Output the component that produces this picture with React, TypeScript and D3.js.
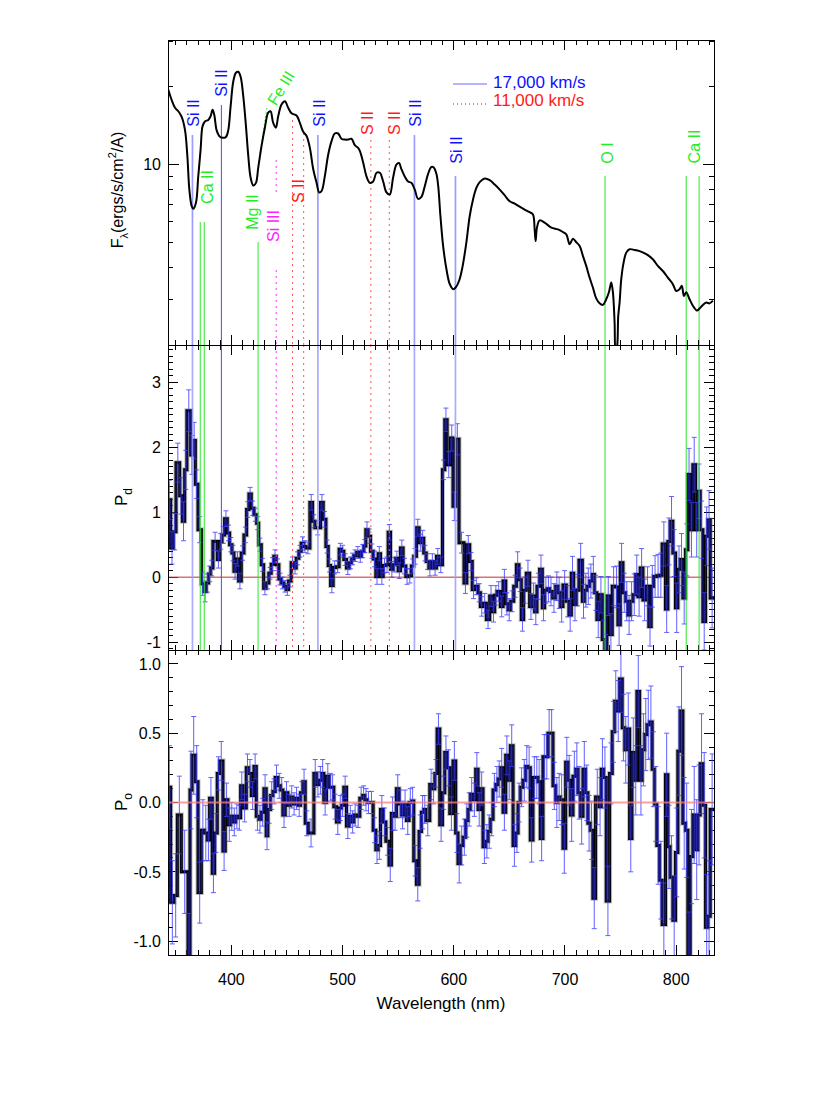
import React, { useEffect, useRef } from "react";
import * as d3 from "d3";

// flux spectrum (nm, ergs/s/cm2/A)
const fluxWave = [
  343.3, 346.3, 349.3, 352.3, 355.3, 358.3, 360.4, 362.2, 364.3, 365.7, 368.1, 370.2, 372.3, 374.1, 376.2,
  379.2, 381.3, 383.1, 384.6, 386.7, 389.1, 392.1, 395.1, 397.2, 399.3, 401.7, 404.1, 406.2, 408.3, 410.7,
  413.1, 415.2, 417.3, 419.7, 422.1, 424.1, 427.1, 430.1, 433.1, 435.2, 437.6, 440.0, 442.1, 445.1, 448.1,
  451.1, 454.1, 458.6, 461.6, 464.6, 467.6, 470.6, 473.6, 476.6, 479.0, 481.1, 484.0, 487.0, 490.0, 493.0,
  496.0, 499.0, 502.0, 505.0, 508.0, 511.0, 514.0, 515.5, 518.5, 521.5, 524.5, 527.5, 530.5, 533.5, 536.5,
  539.5, 542.4, 545.4, 548.4, 550.8, 552.9, 555.9, 558.9, 561.9, 564.9, 567.9, 570.9, 573.9, 576.9, 579.9,
  582.0, 584.4, 586.0, 588.0, 590.4, 593.4, 596.4, 599.4, 601.7, 604.7, 607.7, 611.3, 614.3, 617.3, 620.3,
  623.3, 627.8, 632.3, 636.8, 641.3, 645.8, 650.3, 654.8, 659.2, 663.7, 668.2, 671.2, 672.7, 673.6, 674.8,
  677.2, 681.7, 687.7, 693.7, 698.2, 701.2, 704.2, 707.2, 710.2, 713.2, 716.1, 719.1, 722.1, 725.1, 728.1,
  731.1, 734.1, 736.5, 739.5, 741.6, 743.1, 744.6, 745.5, 746.7, 747.9, 749.1, 750.6, 752.7, 755.1, 758.1,
  762.6, 767.1, 773.1, 779.0, 783.5, 788.0, 792.5, 797.0, 800.0, 803.0, 805.1, 806.9, 809.0, 812.0, 815.0,
  818.6, 821.0, 824.0, 827.0, 830.0, 833.0,
];
const fluxValue = [
  19.5, 17.8, 16.6, 16.1, 15.3, 13.6, 10.8, 8.0, 6.9, 6.74, 7.1, 9.0, 11.4, 14.1, 14.7,
  14.9, 15.4, 16.3, 15.6, 13.6, 12.9, 12.7, 12.8, 13.6, 16.8, 21.0, 22.7, 22.9, 21.9, 18.4,
  14.1, 10.8, 8.9, 8.3, 8.5, 9.7, 11.8, 13.9, 15.9, 16.1, 14.5, 13.9, 15.4, 17.1, 17.6,
  16.6, 15.8, 15.5, 14.5, 13.4, 12.9, 11.6, 9.6, 8.5, 7.8, 7.9, 9.0, 10.9, 12.3, 13.2,
  13.2, 12.6, 12.5, 12.5, 12.6, 11.9, 11.6, 11.3, 10.2, 9.0, 8.5, 8.6, 9.3, 9.3, 8.6,
  7.8, 7.66, 8.9, 10.0, 10.15, 9.6, 9.0, 8.6, 8.5, 8.0, 7.37, 7.5, 8.25, 9.2, 9.8,
  9.75, 9.2, 8.25, 6.31, 4.84, 3.93, 3.44, 3.29, 3.34, 3.54, 3.99, 4.99, 6.31, 7.33, 8.13,
  8.55, 8.83, 8.7, 8.37, 8.0, 7.6, 7.21, 7.06, 6.87, 6.7, 6.54, 6.41, 5.61, 5.06, 5.7,
  6.08, 5.96, 5.7, 5.61, 5.48, 5.37, 4.91, 5.16, 5.0, 4.84, 4.43, 4.05, 3.65, 3.34, 3.03,
  2.9, 2.86, 2.97, 3.2, 3.49, 3.2, 2.45, 1.9, 1.95, 2.6, 2.92, 3.6, 4.17, 4.56, 4.7,
  4.67, 4.62, 4.5, 4.3, 4.05, 3.87, 3.65, 3.44, 3.24, 3.29, 3.39, 3.1, 3.2, 3.01, 2.84,
  2.72, 2.77, 2.86, 2.92, 2.9, 2.97,
];

// polarization bins: [bin start (nm), value (%), error (%)]
const pdBins = [
  [343.0, 1.19, 0.3], [345.4, 0.45, 0.25], [347.8, 0.7, 0.28], [350.2, 1.76, 0.3], [353.5, 1.25, 0.28],
  [355.9, 0.86, 0.3], [358.0, 1.65, 0.3], [360.0, 2.56, 0.32], [363.4, 1.88, 0.3], [365.5, 2.1, 0.28],
  [367.6, 1.43, 0.22], [370.0, 0.73, 0.2], [373.0, -0.1, 0.18], [375.3, -0.22, 0.16], [377.4, -0.09, 0.14],
  [379.5, 0.05, 0.12], [381.3, 0.14, 0.12], [383.4, 0.55, 0.14], [387.3, 0.27, 0.13], [389.4, 0.55, 0.12],
  [391.5, 0.65, 0.13], [393.9, 0.9, 0.12], [396.3, 0.68, 0.12], [398.4, 0.5, 0.11], [400.5, 0.37, 0.12],
  [402.3, 0.09, 0.12], [404.4, 0.28, 0.11], [406.5, -0.06, 0.12], [408.9, 0.37, 0.11], [411.3, 0.65, 0.12],
  [413.7, 1.04, 0.12], [415.8, 1.28, 0.1], [417.9, 1.06, 0.11], [420.3, 0.96, 0.1], [422.7, 0.83, 0.1],
  [424.5, 0.5, 0.1], [426.9, 0.19, 0.1], [429.0, -0.17, 0.1], [431.3, -0.09, 0.09], [433.7, 0.06, 0.09],
  [435.8, 0.2, 0.1], [438.2, 0.32, 0.1], [440.3, 0.19, 0.09], [442.7, -0.03, 0.09], [444.8, -0.09, 0.09],
  [447.2, -0.14, 0.09], [449.3, -0.19, 0.09], [451.4, -0.06, 0.09], [453.8, 0.22, 0.09], [456.2, 0.14, 0.09],
  [458.3, 0.29, 0.1], [460.7, 0.4, 0.09], [462.8, 0.52, 0.1], [465.2, 0.47, 0.09], [467.0, 0.45, 0.09],
  [470.6, 1.15, 0.12], [473.0, 0.86, 0.1], [475.1, 0.76, 0.11], [480.2, 1.15, 0.12], [482.6, 0.89, 0.12],
  [485.0, 0.47, 0.1], [487.1, 0.18, 0.1], [489.2, -0.13, 0.11], [491.5, 0.15, 0.1], [494.2, 0.16, 0.09],
  [496.9, 0.43, 0.09], [499.0, 0.4, 0.09], [501.1, 0.27, 0.09], [503.5, 0.14, 0.1], [505.9, 0.22, 0.09],
  [508.0, 0.28, 0.09], [510.1, 0.33, 0.09], [512.5, 0.38, 0.09], [514.9, 0.32, 0.09], [517.0, 0.4, 0.1],
  [519.1, 0.48, 0.1], [520.9, 0.73, 0.12], [523.0, 0.63, 0.11], [525.1, 0.4, 0.11], [527.5, 0.28, 0.12],
  [529.9, 0.01, 0.12], [532.0, 0.36, 0.11], [534.1, 0.01, 0.12], [536.5, 0.18, 0.11], [538.9, 0.19, 0.12],
  [541.0, 0.69, 0.12], [543.1, 0.12, 0.12], [545.5, 0.19, 0.11], [547.6, 0.29, 0.11], [550.0, 0.1, 0.12],
  [552.1, 0.45, 0.12], [554.4, 0.17, 0.12], [556.9, 0.01, 0.12], [559.0, 0.02, 0.11], [561.9, 0.17, 0.11],
  [564.0, 0.32, 0.12], [566.4, 0.76, 0.13], [568.8, 0.53, 0.13], [571.0, 0.6, 0.12], [573.0, 0.37, 0.12],
  [575.2, 0.24, 0.12], [577.5, 0.14, 0.12], [579.5, 0.24, 0.12], [582.0, 0.14, 0.11], [584.4, 0.32, 0.12],
  [586.8, 0.19, 0.12], [589.8, 1.65, 0.15], [591.9, 2.42, 0.18], [594.0, 1.73, 0.2], [597.0, 2.14, 0.2],
  [599.3, 1.09, 0.22], [601.7, 2.12, 0.24], [604.7, 0.53, 0.16], [609.2, -0.09, 0.16], [611.7, 0.5, 0.14],
  [614.3, 0.24, 0.14], [616.6, -0.19, 0.14], [618.8, -0.14, 0.13], [621.8, -0.24, 0.14], [623.9, -0.45, 0.15],
  [626.3, -0.4, 0.15], [629.3, -0.65, 0.14], [632.3, -0.29, 0.16], [634.7, -0.53, 0.16], [636.8, -0.28, 0.15],
  [638.9, -0.22, 0.15], [641.9, -0.45, 0.16], [644.3, -0.06, 0.18], [646.7, -0.41, 0.17], [648.8, -0.5, 0.17],
  [650.9, -0.37, 0.16], [653.9, -0.14, 0.17], [656.3, 0.19, 0.2], [658.6, -0.04, 0.18], [660.7, -0.65, 0.18],
  [662.8, -0.2, 0.2], [665.2, 0.06, 0.2], [668.2, -0.45, 0.2], [670.6, -0.29, 0.2], [672.7, -0.53, 0.2],
  [674.8, -0.14, 0.2], [677.2, 0.12, 0.22], [679.6, -0.47, 0.2], [681.7, -0.2, 0.2], [684.0, -0.18, 0.2],
  [686.2, -0.22, 0.22], [688.6, -0.32, 0.22], [691.6, -0.14, 0.22], [693.7, -0.24, 0.24], [695.8, -0.45, 0.24],
  [698.2, -0.12, 0.22], [701.2, -0.37, 0.24], [703.6, -0.58, 0.25], [705.7, 0.06, 0.26], [707.8, -0.42, 0.25],
  [710.2, -0.2, 0.24], [712.6, 0.26, 0.26], [715.6, -0.37, 0.26], [717.7, -0.2, 0.26], [719.8, -0.14, 0.28],
  [722.1, -0.06, 0.26], [724.5, 0.04, 0.28], [726.5, -0.24, 0.27], [728.7, -0.65, 0.28], [731.1, -0.27, 0.28],
  [733.5, -0.96, 0.3], [735.6, -1.2, 0.32], [737.7, -0.29, 0.3], [740.1, -0.88, 0.32], [742.5, -0.14, 0.3],
  [745.0, -0.15, 0.32], [747.6, -0.73, 0.32], [749.7, 0.22, 0.3], [752.1, -0.24, 0.3], [754.5, -0.37, 0.3],
  [756.6, -0.58, 0.3], [758.7, -0.37, 0.3], [761.1, -0.27, 0.32], [763.5, 0.04, 0.3], [765.6, -0.3, 0.3],
  [767.7, 0.14, 0.3], [770.1, -0.35, 0.32], [773.1, -0.14, 0.3], [775.4, -0.76, 0.3], [777.5, -0.14, 0.32],
  [779.6, 0.01, 0.32], [782.4, 0.02, 0.33], [785.0, 0.03, 0.34], [787.4, 0.51, 0.34], [790.4, -0.49, 0.36],
  [792.5, 0.55, 0.36], [794.6, 0.86, 0.38], [797.0, 0.37, 0.36], [799.4, -0.47, 0.38], [801.5, 0.12, 0.36],
  [803.6, 0.27, 0.4], [806.0, -0.32, 0.4], [808.4, 0.42, 0.4], [810.5, 1.58, 0.4], [812.6, 0.73, 0.42],
  [815.0, 1.73, 0.42], [817.4, 0.73, 0.42], [819.5, 1.32, 0.42], [821.6, 0.73, 0.44], [824.0, -0.68, 0.44],
  [826.4, 0.63, 0.45], [828.5, 0.88, 0.45], [830.6, -0.32, 0.46],
];

const poBins = [
  [343.0, 0.11, 0.3], [345.4, -0.72, 0.3], [348.4, -0.67, 0.3], [351.4, -0.09, 0.28], [355.0, -0.5, 0.3],
  [361.0, -1.15, 0.35], [362.8, 0.09, 0.28], [364.6, 0.34, 0.28], [367.6, 0.15, 0.26], [370.0, -0.65, 0.22],
  [373.0, -0.2, 0.22], [375.7, -0.22, 0.2], [378.3, -0.27, 0.15], [380.4, 0.03, 0.15], [382.8, -0.51, 0.14],
  [384.9, -0.22, 0.14], [387.3, 0.21, 0.12], [389.4, 0.3, 0.14], [392.4, -0.35, 0.14], [394.5, 0.02, 0.12],
  [396.9, -0.16, 0.12], [399.3, -0.1, 0.1], [401.4, -0.14, 0.1], [403.8, -0.1, 0.09], [406.0, -0.11, 0.09],
  [408.3, 0.12, 0.1], [410.4, -0.04, 0.1], [413.4, 0.25, 0.1], [415.5, 0.21, 0.1], [417.9, 0.05, 0.1],
  [420.3, 0.26, 0.09], [422.4, -0.1, 0.1], [424.5, -0.12, 0.1], [426.9, -0.07, 0.1], [429.3, 0.1, 0.1],
  [431.3, -0.24, 0.1], [432.8, -0.05, 0.1], [435.2, 0.05, 0.1], [437.3, 0.08, 0.09], [439.4, 0.18, 0.09],
  [441.8, 0.12, 0.09], [444.2, 0.09, 0.09], [446.3, -0.09, 0.09], [448.4, 0.07, 0.08], [450.8, -0.02, 0.08],
  [453.2, 0.04, 0.08], [455.3, -0.01, 0.08], [457.4, 0.03, 0.08], [459.8, -0.02, 0.08], [462.2, 0.07, 0.08],
  [464.3, 0.15, 0.09], [466.4, -0.15, 0.09], [469.1, -0.22, 0.1], [474.2, 0.21, 0.1], [476.6, 0.13, 0.09],
  [479.0, 0.16, 0.1], [481.1, 0.21, 0.1], [483.1, 0.0, 0.09], [485.5, 0.19, 0.09], [487.9, 0.11, 0.1],
  [490.0, 0.11, 0.09], [492.1, -0.03, 0.09], [494.5, -0.14, 0.09], [496.9, -0.04, 0.09], [499.0, -0.02, 0.08],
  [501.1, 0.11, 0.08], [503.5, -0.17, 0.09], [505.9, -0.1, 0.08], [508.0, -0.14, 0.08], [510.1, -0.09, 0.08],
  [512.5, -0.1, 0.08], [515.5, 0.03, 0.08], [517.9, 0.05, 0.07], [520.0, 0.02, 0.08], [522.1, 0.0, 0.08],
  [524.5, 0.0, 0.08], [527.5, -0.2, 0.09], [529.9, -0.34, 0.1], [532.0, -0.31, 0.1], [534.1, -0.05, 0.1],
  [536.5, -0.14, 0.1], [538.9, -0.28, 0.1], [541.8, -0.45, 0.12], [543.9, -0.08, 0.12], [546.0, -0.1, 0.1],
  [548.4, 0.1, 0.1], [550.8, -0.01, 0.1], [552.9, -0.09, 0.1], [555.0, -0.01, 0.1], [557.4, -0.13, 0.1],
  [559.8, 0.0, 0.1], [562.0, 0.01, 0.1], [564.0, -0.42, 0.11], [566.4, -0.59, 0.12], [568.8, -0.21, 0.12],
  [570.9, -0.07, 0.12], [573.0, -0.05, 0.1], [574.8, -0.13, 0.11], [578.4, 0.13, 0.11], [580.8, 0.1, 0.11],
  [582.9, 0.21, 0.1], [585.0, 0.53, 0.11], [587.4, -0.16, 0.12], [589.8, 0.07, 0.12], [591.9, 0.36, 0.12],
  [594.0, 0.25, 0.13], [596.4, -0.08, 0.12], [599.3, 0.3, 0.14], [601.7, -0.22, 0.14], [603.8, -0.44, 0.14],
  [605.9, -0.31, 0.14], [608.3, -0.25, 0.13], [610.7, -0.13, 0.12], [612.8, -0.05, 0.12], [614.9, 0.06, 0.12],
  [617.3, 0.02, 0.12], [619.7, 0.24, 0.12], [621.8, -0.05, 0.12], [623.9, 0.1, 0.12], [626.3, -0.32, 0.12],
  [628.7, -0.28, 0.12], [630.8, -0.21, 0.12], [632.9, -0.12, 0.12], [635.3, 0.09, 0.12], [637.7, 0.13, 0.13],
  [639.8, 0.17, 0.13], [641.9, 0.25, 0.14], [644.3, -0.07, 0.13], [646.7, 0.34, 0.14], [648.8, 0.16, 0.14],
  [650.9, 0.41, 0.15], [653.3, -0.31, 0.15], [655.7, -0.22, 0.14], [657.8, 0.0, 0.14], [659.8, 0.11, 0.14],
  [662.2, 0.16, 0.15], [664.6, 0.26, 0.15], [666.7, 0.25, 0.15], [668.8, -0.27, 0.16], [671.2, 0.18, 0.15],
  [673.6, 0.18, 0.15], [675.7, 0.15, 0.16], [677.8, -0.26, 0.16], [680.2, 0.33, 0.16], [682.6, 0.33, 0.16],
  [684.7, 0.5, 0.17], [686.8, 0.5, 0.17], [689.2, 0.12, 0.17], [691.6, 0.0, 0.18], [693.7, 0.04, 0.17],
  [695.8, 0.02, 0.18], [698.2, -0.33, 0.18], [700.6, 0.29, 0.18], [702.7, 0.16, 0.18], [704.8, -0.09, 0.19],
  [707.2, 0.19, 0.18], [709.6, 0.24, 0.19], [711.7, 0.07, 0.19], [713.8, -0.1, 0.2], [716.2, 0.24, 0.2],
  [718.5, 0.07, 0.2], [720.6, -0.15, 0.2], [722.7, -0.2, 0.21], [725.1, -0.69, 0.22], [727.5, 0.04, 0.2],
  [730.5, -0.03, 0.21], [732.6, 0.24, 0.22], [734.7, 0.18, 0.22], [737.1, -0.71, 0.25], [740.1, 0.21, 0.22],
  [742.5, 0.51, 0.22], [744.6, 0.73, 0.22], [746.7, 0.66, 0.22], [749.1, 0.89, 0.24], [751.5, 0.54, 0.24],
  [753.6, 0.38, 0.24], [755.7, 0.53, 0.26], [758.1, -0.26, 0.24], [760.2, 0.36, 0.25], [762.6, 0.16, 0.25],
  [764.7, 0.8, 0.26], [767.1, 0.16, 0.25], [769.5, 0.38, 0.26], [771.6, 0.49, 0.26], [773.7, 0.56, 0.25],
  [776.1, 0.58, 0.26], [778.4, 0.24, 0.27], [780.5, -0.01, 0.27], [782.6, -0.31, 0.28], [785.0, -0.56, 0.28],
  [787.4, -0.88, 0.3], [790.4, 0.2, 0.3], [792.5, -0.32, 0.3], [794.6, -0.54, 0.3], [797.0, -0.85, 0.32],
  [799.4, -0.36, 0.32], [801.5, 0.37, 0.32], [803.6, 0.66, 0.32], [806.0, -0.15, 0.33], [808.4, -0.2, 0.34],
  [810.5, -1.15, 0.36], [812.6, -0.39, 0.34], [815.0, -0.09, 0.35], [817.4, -0.34, 0.36], [819.5, -0.09, 0.36],
  [821.6, 0.28, 0.36], [824.0, -0.02, 0.38], [826.4, -0.9, 0.38], [828.5, -0.82, 0.4], [830.6, -0.05, 0.4],
];

const xTickLabels = [400, 500, 600, 700, 800];
const fluxTickLabels = [10];
const pdTickLabels = [-1, 0, 1, 2, 3];
const poTickLabels = [-1.0, -0.5, 0.0, 0.5, 1.0];

// line identifications (blueshifted absorption, nm)
const lineNames = ["Si II", "Ca II", "Si II", "Mg II", "Si III", "S II", "Si II", "S II", "S II", "Si II", "Si II", "O I", "Ca II"];
const lineWaves = [[365.0], [372.0, 375.6], [391.0], [424.0], [440.3], [455.0, 465.0], [477.8], [525.4], [542.0], [564.6], [601.5], [736.0], [809.0, 820.6]];
const lineKinds = ["fast", "green", "blue", "green", "magenta", "red", "fast", "red", "red", "fast", "fast", "green", "green"];
const feIIIWaves = [425.7, 431.9];
const legendLabels = ["17,000 km/s", "11,000 km/s"];

// placement of the identifications inside the flux panel (pixels)
const lineTops = [[135], [222, 222], [105], [242], [160], [120, 133], [135], [140], [140], [135], [176], [176], [176, 176]];
const labelPos = [[192.5, 113], [207, 187], [221, 83], [252, 212], [273, 226], [298, 191], [319, 113], [367, 123], [394, 123], [415, 113], [456, 150], [606.5, 153], [693.5, 146.5]];

const kindStyle: Record<string, { stroke: string; width: number; dash: string | null; text: string }> = {
  fast: { stroke: "#9d9dff", width: 1.7, dash: null, text: "#1010ff" },
  blue: { stroke: "#4848ff", width: 1, dash: null, text: "#1010ff" },
  green: { stroke: "#2ee62e", width: 1, dash: null, text: "#22ee22" },
  magenta: { stroke: "#ff33ff", width: 1, dash: "2,4", text: "#ff22ff" },
  red: { stroke: "#ff5a5a", width: 1, dash: "2,4", text: "#ff1a1a" },
};

const W = 830;
const H = 1120;
const left = 168;
const right = 714;
const X0 = 343;
const X1 = 834;

const App = () => {
  const ref = useRef<SVGSVGElement>(null);

  useEffect(() => {
    const svg = d3.select(ref.current);
    svg.selectAll("*").remove();
    const font = "'Liberation Sans', Arial, Helvetica, sans-serif";

    const x = d3.scaleLinear().domain([X0, X1]).range([left, right]);
    const yF = d3.scaleLog().domain([2, 30.4]).range([345, 40]);
    const yD = d3.scaleLinear().domain([-1.12, 3.57]).range([650, 345]);
    const yO = d3.scaleLinear().domain([-1.1, 1.1]).range([955, 650]);

    svg.append("rect").attr("width", W).attr("height", H).attr("fill", "#fff");
    const root = svg.append("g").style("font-family", font);

    const defs = svg.append("defs");
    const clips: [string, number, number][] = [["clipF", 40, 345], ["clipD", 345, 650], ["clipO", 650, 955]];
    clips.forEach(([id, t, b]) => {
      defs.append("clipPath").attr("id", id)
        .append("rect").attr("x", left).attr("y", t).attr("width", right - left).attr("height", b - t);
    });

    // ---------- flux panel ----------
    const gF = root.append("g");
    const gFc = gF.append("g").attr("clip-path", "url(#clipF)");

    lineWaves.forEach((ws, i) => {
      const st = kindStyle[lineKinds[i]];
      ws.forEach((w, j) => {
        if (lineKinds[i] === "magenta") {
          // Si III marker broken around its label
          [[160, 192], [270, 345]].forEach(([a, b]) => {
            gFc.append("line").attr("x1", x(w)).attr("x2", x(w)).attr("y1", a).attr("y2", b)
              .attr("stroke", st.stroke).attr("stroke-width", st.width).attr("stroke-dasharray", st.dash);
          });
          return;
        }
        gFc.append("line").attr("x1", x(w)).attr("x2", x(w)).attr("y1", lineTops[i][j]).attr("y2", 345)
          .attr("stroke", st.stroke).attr("stroke-width", st.width)
          .attr("stroke-dasharray", st.dash);
      });
      const [cx, cy] = labelPos[i];
      gF.append("text")
        .attr("transform", `translate(${cx + 6},${cy}) rotate(-90)`)
        .attr("text-anchor", "middle").attr("font-size", 16).attr("fill", st.text)
        .text(lineNames[i]);
    });

    // Fe III pointer
    gFc.append("line").attr("x1", x(feIIIWaves[0])).attr("y1", 153).attr("x2", x(feIIIWaves[1])).attr("y2", 108)
      .attr("stroke", "#2ee62e").attr("stroke-dasharray", "1.5,2.5");
    gF.append("text").attr("transform", "translate(281,88) rotate(-58)")
      .attr("text-anchor", "middle").attr("dy", "0.35em").attr("font-size", 16).attr("fill", "#22ee22")
      .text("Fe III");

    const fluxLine = d3.line<number>()
      .x((_, i) => x(fluxWave[i]))
      .y((d) => yF(d))
      .curve(d3.curveCatmullRom.alpha(0.5));
    gFc.append("path").attr("d", fluxLine(fluxValue)).attr("fill", "none")
      .attr("stroke", "#000").attr("stroke-width", 2).attr("stroke-linejoin", "round");

    // legend
    gF.append("line").attr("x1", 453).attr("x2", 487).attr("y1", 84).attr("y2", 84)
      .attr("stroke", "#9d9dff").attr("stroke-width", 1.5);
    gF.append("line").attr("x1", 453).attr("x2", 487).attr("y1", 104).attr("y2", 104)
      .attr("stroke", "#3030ff").attr("stroke-dasharray", "1,3");
    gF.append("text").attr("x", 493).attr("y", 88).attr("font-size", 17).attr("fill", "#1010ff").text(legendLabels[0]);
    gF.append("text").attr("x", 493).attr("y", 106).attr("font-size", 17).attr("fill", "#ff1a1a").text(legendLabels[1]);

    // ---------- ticks and frames ----------
    const frame = (top: number, bottom: number) => {
      const g = root.append("g").attr("shape-rendering", "crispEdges");
      d3.range(350, 834, 10).forEach((t) => {
        const len = t % 100 === 0 ? 10 : 5;
        g.append("line").attr("x1", x(t)).attr("x2", x(t)).attr("y1", bottom).attr("y2", bottom - len).attr("stroke", "#000");
        g.append("line").attr("x1", x(t)).attr("x2", x(t)).attr("y1", top).attr("y2", top + len).attr("stroke", "#000");
      });
      return g;
    };
    const yTicks = (g: any, vals: number[], scale: (v: number) => number, len: number) => {
      vals.forEach((v) => {
        const yy = scale(v);
        g.append("line").attr("x1", left).attr("x2", left + len).attr("y1", yy).attr("y2", yy).attr("stroke", "#000");
        g.append("line").attr("x1", right).attr("x2", right - len).attr("y1", yy).attr("y2", yy).attr("stroke", "#000");
      });
    };

    const fF = frame(40, 345);
    yTicks(fF, [2, 3, 4, 5, 6, 7, 8, 9, 20, 30], yF, 5);
    yTicks(fF, [10], yF, 11);
    const fD = frame(345, 650);
    yTicks(fD, d3.range(-11, 36).map((v) => v / 10).filter((v) => Math.abs(v - Math.round(v)) > 0.01), yD, 5);
    yTicks(fD, pdTickLabels, yD, 10);
    const fO = frame(650, 955);
    yTicks(fO, d3.range(-11, 12).map((v) => v / 10).filter((v) => Math.abs(v * 2 - Math.round(v * 2)) > 0.01), yO, 5);
    yTicks(fO, poTickLabels, yO, 10);

    // tick labels
    const tickText = (vals: number[], scale: (v: number) => number, fmt: (v: number) => string) => {
      vals.forEach((v) => {
        root.append("text").attr("x", 161).attr("y", scale(v) + 5.8)
          .attr("text-anchor", "end").attr("font-size", 16).text(fmt(v));
      });
    };
    tickText(fluxTickLabels, yF, (v) => String(v));
    tickText(pdTickLabels, yD, (v) => String(v));
    tickText(poTickLabels, yO, (v) => v.toFixed(1));
    xTickLabels.forEach((v) => {
      root.append("text").attr("x", x(v)).attr("y", 985).attr("text-anchor", "middle").attr("font-size", 16).text(String(v));
    });
    root.append("text").attr("x", (left + right) / 2).attr("y", 1009).attr("text-anchor", "middle")
      .attr("font-size", 17).text("Wavelength (nm)");

    // axis titles
    const fT = root.append("text").attr("transform", "translate(123,190) rotate(-90)")
      .attr("text-anchor", "middle").attr("font-size", 16);
    fT.append("tspan").text("F");
    fT.append("tspan").attr("dy", 5).attr("font-size", 11).text("λ");
    fT.append("tspan").attr("dy", -5).text("(ergs/s/cm");
    fT.append("tspan").attr("dy", -7).attr("font-size", 11).text("2");
    fT.append("tspan").attr("dy", 7).text("/A)");

    const pT = (cy: number, sub: string) => {
      const t = root.append("text").attr("transform", `translate(127,${cy}) rotate(-90)`)
        .attr("text-anchor", "middle").attr("font-size", 17);
      t.append("tspan").text("P");
      t.append("tspan").attr("dy", 5).attr("font-size", 12).text(sub);
    };
    pT(497, "d");
    pT(802, "o");

    // ---------- polarization panels ----------
    const stepPath = (bins: number[][], ys: (v: number) => number) => {
      let d = "";
      bins.forEach((b, i) => {
        const x0 = x(b[0]);
        const x1 = x(i < bins.length - 1 ? bins[i + 1][0] : X1);
        const yy = ys(b[1]);
        d += (i === 0 ? `M${x0},${yy}` : `V${yy}`) + `H${x1}`;
      });
      return d;
    };

    const drawPol = (bins: number[][], ys: any, clipId: string) => {
      const g = root.append("g").attr("clip-path", `url(#${clipId})`);
      const d = stepPath(bins, ys);
      g.append("path").attr("d", d).attr("fill", "none").attr("stroke", "#8c8c8c").attr("stroke-width", 5).attr("opacity", 0.55);
      g.append("path").attr("d", d).attr("fill", "none").attr("stroke", "#000").attr("stroke-width", 3);
      bins.forEach((b, i) => {
        if (i === 0) return;
        g.append("line").attr("x1", x(b[0])).attr("x2", x(b[0]))
          .attr("y1", ys(bins[i - 1][1])).attr("y2", ys(b[1]))
          .attr("stroke", "#16167a").attr("stroke-width", 1.2);
      });
      bins.forEach((b, i) => {
        const xe = x(i < bins.length - 1 ? bins[i + 1][0] : X1);
        const xc = (x(b[0]) + xe) / 2;
        const y1 = ys(b[1] - b[2]);
        const y2 = ys(b[1] + b[2]);
        const eg = g.append("g").attr("stroke", "#3a3aff").attr("stroke-width", 1).attr("opacity", 0.8);
        eg.append("line").attr("x1", xc).attr("x2", xc).attr("y1", y1).attr("y2", y2);
        eg.append("line").attr("x1", xc - 2.5).attr("x2", xc + 2.5).attr("y1", y1).attr("y2", y1);
        eg.append("line").attr("x1", xc - 2.5).attr("x2", xc + 2.5).attr("y1", y2).attr("y2", y2);
      });
      return g;
    };

    root.append("line").attr("x1", left).attr("x2", right).attr("y1", yD(0)).attr("y2", yD(0))
      .attr("stroke", "#c03030").attr("stroke-width", 1);
    const gD = drawPol(pdBins, yD, "clipD");

    // identification lines through the P_d panel
    lineWaves.forEach((ws, i) => {
      const st = kindStyle[lineKinds[i]];
      ws.forEach((w) => {
        gD.append("line").attr("x1", x(w)).attr("x2", x(w)).attr("y1", 345).attr("y2", 650)
          .attr("stroke", st.stroke).attr("stroke-width", st.width)
          .attr("stroke-dasharray", st.dash).attr("opacity", lineKinds[i] === "fast" ? 0.85 : 1);
      });
    });

    drawPol(poBins, yO, "clipO");
    root.append("line").attr("x1", left).attr("x2", right).attr("y1", yO(0)).attr("y2", yO(0))
      .attr("stroke", "#ff8080").attr("stroke-width", 2).attr("opacity", 0.75);

    // frames on top
    [[40, 345], [345, 650], [650, 955]].forEach(([t, b]) => {
      root.append("rect").attr("x", left).attr("y", t).attr("width", right - left).attr("height", b - t)
        .attr("fill", "none").attr("stroke", "#000").attr("shape-rendering", "crispEdges");
    });
  }, []);

  return (
    <svg ref={ref} width={W} height={H}
      style={{ position: "absolute", left: 0, top: 0, display: "block" }} />
  );
};

export default App;
